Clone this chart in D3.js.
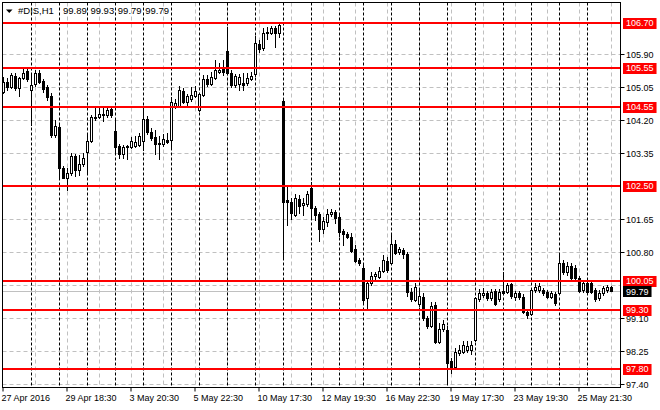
<!DOCTYPE html>
<html><head><meta charset="utf-8">
<script src="https://cdn.jsdelivr.net/npm/d3@7"></script>
<style>
body{margin:0;background:#fff}
svg{display:block}
text{font-family:"Liberation Sans",Arial,sans-serif;font-size:9px}
</style>
</head><body><svg id="c" width="660" height="410"></svg>
<script>
const symbolName = "#DIS,H1";
const lastQuote = [99.89, 99.93, 99.79, 99.79];

const openP = [
104.93,105.19,105.06,105.34,105.02,105.29,105.47,104.97,105.12,105.40,
105.21,105.05,104.83,103.82,104.03,102.96,102.72,102.83,103.28,102.91,
103.06,103.37,103.66,104.27,104.29,104.32,104.33,104.48,103.92,103.54,
103.33,103.51,103.51,103.53,103.56,103.67,104.22,103.90,103.77,103.62,
103.58,103.69,103.69,104.54,104.56,104.96,104.67,104.74,104.82,104.46,
104.85,105.26,105.13,105.29,105.45,105.51,105.98,105.40,105.10,105.13,
105.16,105.15,105.26,105.38,106.16,106.05,106.43,106.45,106.56,106.45,
104.69,102.14,102.10,101.76,102.16,102.01,102.04,102.44,101.93,101.78,
101.40,101.58,101.78,101.83,101.70,101.35,101.27,101.20,100.87,100.60,
100.40,99.61,100.00,100.19,100.17,100.32,100.58,100.51,101.01,100.80,
100.85,100.75,99.78,99.57,99.46,99.65,99.10,98.90,99.44,98.49,
98.82,98.79,98.00,97.85,98.21,98.24,98.28,98.28,98.54,99.59,
99.70,99.76,99.61,99.81,99.59,99.81,99.78,99.98,99.65,99.76,
99.65,99.27,99.22,99.82,99.82,99.82,99.78,99.65,99.72,99.76,
100.53,100.29,100.44,100.39,100.13,99.82,100.01,100.00,99.82,99.61,
99.74,99.82,99.89];
const highP = [
105.32,105.28,105.41,105.41,105.32,105.52,105.52,105.38,105.49,105.49,
105.26,105.10,104.89,104.20,104.10,103.02,102.96,103.36,103.33,103.30,
103.36,103.83,104.33,104.52,104.50,104.50,104.52,104.52,104.20,103.58,
103.56,103.56,103.77,103.79,103.87,104.46,104.31,104.00,103.94,103.79,
103.84,103.87,104.80,104.74,105.08,105.02,104.87,105.04,105.08,104.90,
105.36,105.36,105.45,105.75,105.66,105.75,106.60,105.49,105.39,105.39,
105.41,105.42,105.45,106.37,106.26,106.57,106.60,106.62,106.62,106.73,
104.74,102.48,102.19,102.30,102.27,102.19,102.38,102.61,101.99,101.83,
101.71,101.90,101.90,101.88,101.76,101.40,101.32,101.29,100.98,100.65,
100.47,100.06,100.30,100.30,100.42,100.73,100.67,101.24,101.11,100.94,
100.91,100.80,99.88,100.00,99.84,99.76,99.16,99.52,99.52,98.97,
99.05,98.90,98.07,98.32,98.41,98.52,98.51,98.51,99.65,99.84,
99.87,99.81,99.85,99.85,99.85,100.30,100.00,100.00,99.80,99.80,
99.72,99.34,99.88,100.00,100.00,99.88,99.82,99.80,99.77,100.79,
100.60,100.55,100.52,100.47,100.19,100.06,100.08,100.06,99.88,99.82,
99.93,99.95,99.93];
const lowP = [
104.90,104.97,105.03,104.97,104.83,105.26,105.21,104.07,105.08,105.15,
104.93,104.72,103.76,103.76,102.68,102.71,102.40,102.79,102.77,102.79,
103.02,102.87,103.64,104.20,104.25,104.18,104.28,104.29,103.39,103.23,
103.22,103.19,103.48,103.51,103.53,103.43,103.84,103.69,103.34,103.19,
103.53,103.61,103.46,104.51,104.54,104.64,104.59,104.69,104.79,104.43,
104.82,105.08,105.10,105.26,105.41,105.36,105.39,105.04,105.05,104.97,
104.97,105.10,105.23,105.34,105.95,106.00,106.28,106.42,106.09,106.34,
100.64,101.50,101.65,101.73,101.80,101.76,101.99,101.71,101.63,101.09,
101.29,101.47,101.73,101.55,101.22,100.98,101.16,100.80,100.55,100.47,
99.52,99.33,99.95,100.06,100.13,100.29,100.29,100.49,100.75,100.75,
100.65,99.67,99.54,99.54,99.41,99.05,98.85,98.87,98.45,98.46,
98.77,97.42,97.69,97.79,98.15,98.20,98.23,98.19,98.51,99.54,
99.64,99.57,99.57,99.44,99.54,99.72,99.75,99.62,99.57,99.59,
99.23,99.10,99.18,99.77,99.77,99.70,99.62,99.62,99.44,99.72,
100.24,100.21,100.08,100.08,99.77,99.77,99.75,99.75,99.55,99.57,
99.70,99.77,99.79];
const closeP = [
105.19,105.06,105.36,105.02,105.28,105.40,105.26,105.10,105.42,105.19,
105.00,104.79,103.82,104.06,102.97,102.72,102.83,103.28,102.91,103.07,
103.22,103.66,104.29,104.29,104.36,104.36,104.46,104.33,103.51,103.33,
103.51,103.54,103.66,103.64,103.80,104.23,103.89,103.73,103.58,103.58,
103.71,103.64,104.67,104.65,104.97,104.67,104.83,104.85,104.96,104.87,
105.26,105.13,105.32,105.49,105.49,105.45,105.40,105.10,105.34,105.30,
105.10,105.28,105.34,106.18,106.02,106.45,106.48,106.56,106.45,106.65,
102.10,102.10,101.80,102.19,101.99,102.07,102.30,101.93,101.76,101.40,
101.60,101.78,101.84,101.69,101.33,101.27,101.20,100.84,100.58,100.51,
99.57,100.00,100.19,100.23,100.31,100.60,100.34,101.01,100.79,100.88,
100.75,99.78,99.59,99.91,99.67,99.10,98.90,99.41,98.49,98.81,
98.95,97.95,97.85,98.23,98.28,98.41,98.38,98.41,99.61,99.74,
99.76,99.61,99.78,99.46,99.78,99.76,99.95,99.67,99.74,99.65,
99.27,99.18,99.82,99.91,99.93,99.74,99.65,99.74,99.48,100.51,
100.30,100.44,100.13,100.13,99.81,100.00,99.78,99.78,99.59,99.76,
99.87,99.91,99.79];

const daySeparatorBars = [7,14,21,28,35,42,49,56,63,70,77,84,90,97,104,111,118,125,132,139,146];
const gridBars = [8,16,24,32,40,48,56,64,72,80,88,96,104,112,120,128,136,144,152];
const timeTickBars = [0,16,32,48,64,80,96,112,128,144];
const timeLabels = ["27 Apr 2016","29 Apr 18:30","3 May 20:30","5 May 22:30","10 May 17:30",
                    "12 May 19:30","16 May 22:30","19 May 17:30","23 May 19:30","25 May 21:30"];
const gridPrices = [105.90,105.05,104.20,103.35,102.50,101.65,100.80,99.95,99.10,98.25,97.40];
const priceLabels = ["105.90","105.05","104.20","103.35","101.65","100.80","99.10","98.25","97.40"];
const levelPrices = ["106.70","105.55","104.55","102.50","100.05","99.30","97.80"];
const bidPrice = "99.79";

const W = 660, H = 410;
const L = 2.5, R = 620.5, T = 2.5, B = 387.5;
const n = openP.length;
const x = d3.scaleLinear().domain([0, n - 1]).range([3.5, 3.5 + 4 * (n - 1)]);
const y = d3.scaleLinear().domain([97.315, 107.228]).range([B, T]);
const cy = v => Math.floor(y(+v)) + 0.5;

const svg = d3.select("#c");
svg.append("rect").attr("width", W).attr("height", H).attr("fill", "#fff");
svg.append("clipPath").attr("id", "pc").append("rect")
  .attr("x", L).attr("y", T).attr("width", R - L).attr("height", B - T);
const g = svg.append("g").attr("clip-path", "url(#pc)");

// horizontal grid
g.selectAll(".hg").data(gridPrices).join("line")
  .attr("x1", L).attr("x2", R).attr("y1", d => cy(d)).attr("y2", d => cy(d))
  .attr("stroke", "#c0c0c0").attr("stroke-dasharray", "4,3");
// vertical grid
g.selectAll(".vg").data(gridBars).join("line")
  .attr("x1", d => x(d)).attr("x2", d => x(d)).attr("y1", T).attr("y2", B)
  .attr("stroke", "#c0c0c0").attr("stroke-dasharray", "4,3");
// day separators
g.selectAll(".ds").data(daySeparatorBars).join("line")
  .attr("x1", d => x(d)).attr("x2", d => x(d)).attr("y1", T).attr("y2", B)
  .attr("stroke", "#000").attr("stroke-dasharray", "3,2");
// bid line
g.append("line").attr("x1", L).attr("x2", R).attr("y1", cy(bidPrice)).attr("y2", cy(bidPrice))
  .attr("stroke", "#c0c0c0");

// candles
const idx = d3.range(n);
g.selectAll(".wick").data(idx).join("line")
  .attr("x1", i => x(i)).attr("x2", i => x(i))
  .attr("y1", i => Math.round(y(highP[i]))).attr("y2", i => Math.round(y(lowP[i])) + 1)
  .attr("stroke", "#000");
idx.forEach(i => {
  const o = openP[i], c = closeP[i];
  const top = Math.round(y(Math.max(o, c))), bot = Math.round(y(Math.min(o, c)));
  if (c > o) {
    g.append("rect").attr("x", x(i) - 1).attr("y", top + 0.5)
      .attr("width", 2).attr("height", Math.max(bot - top, 1))
      .attr("fill", "#fff").attr("stroke", "#000");
  } else {
    g.append("rect").attr("x", x(i) - 1.5).attr("y", top)
      .attr("width", 3).attr("height", Math.max(bot - top, 1) + 1)
      .attr("fill", "#000");
  }
});

// red levels
g.selectAll(".lv").data(levelPrices).join("line")
  .attr("x1", L).attr("x2", R).attr("y1", d => Math.round(y(+d))).attr("y2", d => Math.round(y(+d)))
  .attr("stroke", "#ff0000").attr("stroke-width", 2);

// frame
svg.append("rect").attr("x", L).attr("y", T).attr("width", R - L).attr("height", B - T)
  .attr("fill", "none").attr("stroke", "#000");

// price axis labels
svg.selectAll(".pt").data(priceLabels).join("line")
  .attr("x1", R).attr("x2", R + 4).attr("y1", d => cy(d)).attr("y2", d => cy(d)).attr("stroke", "#000");
svg.selectAll(".pl").data(priceLabels).join("text")
  .attr("x", 626).attr("y", d => y(+d) + 4).attr("fill", "#000").text(d => d);

levelPrices.forEach(p => {
  const yy = Math.round(y(+p));
  const t = svg.append("text").attr("x", 626).attr("y", yy + 3).attr("fill", "#fff").text(p);
  const w = t.node().getComputedTextLength();
  svg.insert("rect", () => t.node()).attr("x", 623).attr("y", yy - 5)
    .attr("width", w + 6).attr("height", 11).attr("fill", "#ff0000");
});
{
  const yy = Math.round(y(+bidPrice));
  const t = svg.append("text").attr("x", 626).attr("y", yy + 3.5).attr("fill", "#fff").text(bidPrice);
  const w = t.node().getComputedTextLength();
  svg.insert("rect", () => t.node()).attr("x", 623).attr("y", yy - 5)
    .attr("width", w + 6).attr("height", 11).attr("fill", "#000");
}

// time axis
svg.selectAll(".tt").data(timeTickBars).join("line")
  .attr("x1", d => x(d) - 0.5).attr("x2", d => x(d) - 0.5).attr("y1", B).attr("y2", B + 4)
  .attr("stroke", "#000");
svg.selectAll(".tl").data(timeTickBars).join("text")
  .attr("x", d => x(d) - 2).attr("y", 401).attr("fill", "#000")
  .text((d, i) => timeLabels[i]);

// title
svg.append("path").attr("d", "M6,9.5 L12.5,9.5 L9.25,13 Z").attr("fill", "#000");
svg.append("text").attr("x", 18).attr("y", 14).attr("fill", "#000")
  .style("font-size", "9.5px").text(symbolName);
svg.append("text").attr("x", 63).attr("y", 14).attr("fill", "#000")
  .style("font-size", "9.5px").attr("word-spacing", "1px")
  .text(lastQuote.map(v => v.toFixed(2)).join(" "));
</script>
</body></html>
